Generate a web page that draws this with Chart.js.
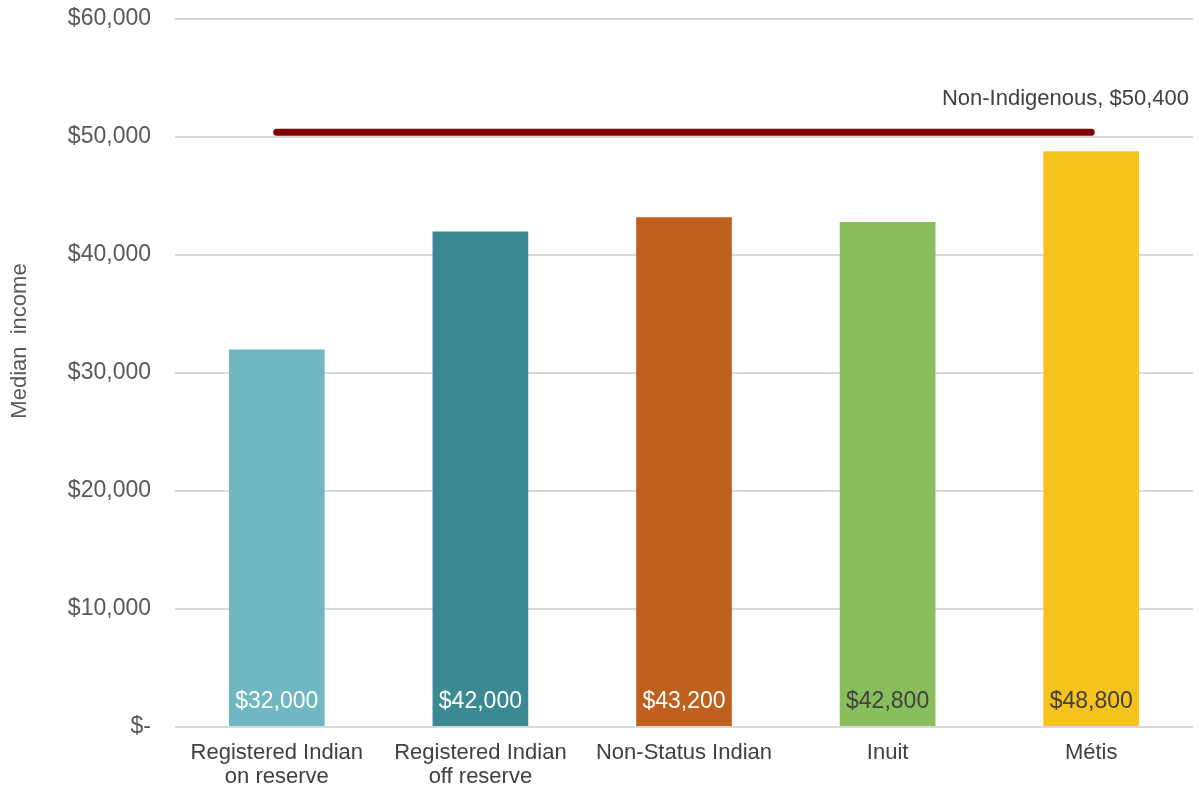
<!DOCTYPE html>
<html>
<head>
<meta charset="utf-8">
<script src="https://cdn.jsdelivr.net/npm/chart.js@4/dist/chart.umd.min.js"></script>
<style>
  html, body { margin: 0; padding: 0; background: #ffffff; }
  #wrap { width: 1199px; height: 791px; position: relative; }
</style>
</head>
<body>
<div id="wrap"><canvas id="chart_income"></canvas></div>
<script>
// data
let group_labels = [['Registered Indian', 'on reserve'], ['Registered Indian', 'off reserve'], 'Non-Status Indian', 'Inuit', 'Métis'];
let median_income = [32000, 42000, 43200, 42800, 48800];
let bar_colors = ['#6fb7c1', '#3b8a93', '#c0601e', '#88bf5c', '#f6c21d'];
let value_label_colors = ['#ffffff', '#ffffff', '#ffffff', '#404040', '#404040'];
let non_indigenous_income = [50400, 50400, 50400, 50400, 50400];
let non_indigenous_label = 'Non-Indigenous, $50,400';
let y_tick_labels = ['$-', '$10,000', '$20,000', '$30,000', '$40,000', '$50,000', '$60,000'];

const label_font = 'Liberation Sans, Arial, sans-serif';

// value labels inside bars, text over the reference line, y axis title
const extra_text = {
    id: 'extra_text',
    afterDatasetsDraw(chart) {
        const ctx = chart.ctx;
        const bars = chart.getDatasetMeta(1).data;
        ctx.save();
        ctx.font = '23px ' + label_font;
        ctx.textAlign = 'center';
        ctx.textBaseline = 'alphabetic';
        bars.forEach((bar, i) => {
            ctx.fillStyle = value_label_colors[i];
            ctx.fillText('$' + median_income[i].toLocaleString('en-US'), bar.x, chart.chartArea.bottom - 19);
        });
        const y = chart.scales.y.getPixelForValue(non_indigenous_income[0]);
        ctx.fillStyle = '#404040';
        ctx.font = '22px ' + label_font;
        ctx.textAlign = 'right';
        ctx.fillText(non_indigenous_label, chart.chartArea.right - 4, y - 27);
        // axis title
        ctx.translate(26, 341);
        ctx.rotate(-Math.PI / 2);
        ctx.textAlign = 'center';
        ctx.fillStyle = '#595959';
        ctx.fillText('Median  income', 0, 0);
        ctx.restore();
    }
};

new Chart(document.getElementById('chart_income'), {
    data: {
        labels: group_labels,
        datasets: [{
            type: 'line',
            data: non_indigenous_income,
            borderColor: '#7f0000',
            borderWidth: 7,
            borderCapStyle: 'round',
            pointRadius: 0,
            order: 0
        }, {
            type: 'bar',
            data: median_income,
            backgroundColor: bar_colors,
            barPercentage: 0.47,
            categoryPercentage: 1,
            order: 1
        }]
    },
    options: {
        responsive: true,
        maintainAspectRatio: false,
        animation: false,
        layout: { padding: { top: 19, right: 6, left: 0, bottom: 0 } },
        plugins: { legend: { display: false }, tooltip: { enabled: false } },
        scales: {
            x: {
                grid: { display: false },
                border: { display: false },
                ticks: {
                    color: '#404040',
                    font: { family: label_font, size: 22, lineHeight: 1.1 },
                    padding: 6,
                    maxRotation: 0
                },
                afterFit: (s) => { s.height = 64; s.paddingTop = 0; }
            },
            y: {
                min: 0,
                max: 60000,
                grid: { color: '#d9d9d9', lineWidth: 2, drawTicks: false },
                border: { display: false },
                ticks: {
                    stepSize: 10000,
                    color: '#595959',
                    padding: 24,
                    font: { family: label_font, size: 23 },
                    callback: (v, i) => y_tick_labels[i]
                },
                afterFit: (s) => { s.width = 175; s.paddingTop = 0; s.paddingBottom = 0; }
            }
        }
    },
    plugins: [extra_text]
});
</script>
</body>
</html>
